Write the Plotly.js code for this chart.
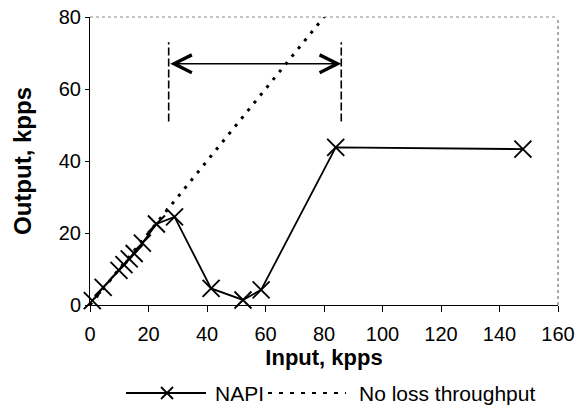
<!DOCTYPE html>
<html>
<head>
<meta charset="utf-8">
<script src="https://cdn.plot.ly/plotly-3.0.1.min.js"></script>
<style>html,body{margin:0;padding:0;background:#fff;}#chart{width:576px;height:410px;}</style>
</head>
<body>
<div id="chart"></div>
<script>
// Data
const napiInput  = [0.8, 4.5, 9.9, 11.6, 13.4, 15.1, 17.9, 22.7, 28.9, 41.4, 52.3, 58.5, 84, 148];
const napiOutput = [1.2, 4.9, 9.6, 11.2, 12.8, 14.3, 17.2, 22.5, 24.5, 4.6, 1.4, 4.2, 43.8, 43.3];
const noLossInput  = [0, 84];
const noLossOutput = [0, 84];
const xTicks = [0, 20, 40, 60, 80, 100, 120, 140, 160];
const yTicks = [0, 20, 40, 60, 80];
const rangeStart = 26.9, rangeEnd = 85.9, rangeLevel = 67;
const seriesNames = ['NAPI', 'No loss throughput'];

const FONT = 'Liberation Sans, Arial, sans-serif';

const traces = [
  {
    x: noLossInput, y: noLossOutput, mode: 'lines', name: seriesNames[1],
    line: {color: '#000', width: 3, dash: '3px,7px'}, showlegend: false, hoverinfo: 'skip'
  },
  {
    x: napiInput, y: napiOutput, mode: 'lines+markers', name: seriesNames[0],
    line: {color: '#000', width: 1.8},
    marker: {symbol: 'x-thin', size: 17, color: '#000', line: {color: '#000', width: 1.9}},
    showlegend: false, cliponaxis: false
  }
];

// paper-coordinate helpers for the hand-drawn legend
const L = 90, R = 18, T = 17, B = 105, W = 576, H = 410;
const pw = W - L - R, ph = H - T - B;
const px = v => (v - L) / pw;
const py = v => (H - B - v) / ph;
const legYpx = 393;
const legY = py(legYpx);

const shapes = [
  // top and right dotted frame
  {type: 'line', xref: 'paper', yref: 'paper', x0: 0, x1: 1, y0: 1, y1: 1, line: {color: '#888', width: 1, dash: 'dot'}},
  {type: 'line', xref: 'paper', yref: 'paper', x0: 1, x1: 1, y0: 0, y1: 1, line: {color: '#555', width: 1, dash: 'dot'}},
  // dashed range markers
  {type: 'line', xref: 'x', yref: 'y', x0: rangeStart, x1: rangeStart, y0: 51, y1: 73, line: {color: '#000', width: 1.6, dash: '8px,3px'}},
  {type: 'line', xref: 'x', yref: 'y', x0: rangeEnd, x1: rangeEnd, y0: 51, y1: 73, line: {color: '#000', width: 1.6, dash: '8px,3px'}},
  // legend symbols
  {type: 'line', xref: 'paper', yref: 'paper', x0: px(126), x1: px(206), y0: legY, y1: legY, line: {color: '#000', width: 1.8}},
  {type: 'line', xref: 'paper', yref: 'paper', x0: px(161), x1: px(173), y0: py(legYpx - 6), y1: py(legYpx + 6), line: {color: '#000', width: 1.8}},
  {type: 'line', xref: 'paper', yref: 'paper', x0: px(161), x1: px(173), y0: py(legYpx + 6), y1: py(legYpx - 6), line: {color: '#000', width: 1.8}},
  {type: 'line', xref: 'paper', yref: 'paper', x0: px(268), x1: px(346), y0: legY, y1: legY, line: {color: '#000', width: 2, dash: '4px,7px'}}
];

const annotations = [
  {x: rangeEnd, y: rangeLevel, ax: rangeStart, ay: rangeLevel, xref: 'x', yref: 'y', axref: 'x', ayref: 'y',
   text: '', showarrow: true, arrowside: 'end+start', arrowhead: 5, startarrowhead: 5,
   arrowsize: 2.5, startarrowsize: 2.5, arrowwidth: 1.4, arrowcolor: '#000'},
  {x: px(213), y: legY, xref: 'paper', yref: 'paper', xanchor: 'left', yanchor: 'middle', showarrow: false,
   text: seriesNames[0], font: {family: FONT, size: 21, color: '#000'}},
  {x: px(357), y: legY, xref: 'paper', yref: 'paper', xanchor: 'left', yanchor: 'middle', showarrow: false,
   text: seriesNames[1], font: {family: FONT, size: 21, color: '#000'}}
];

const layout = {
  width: W, height: H,
  margin: {l: L, r: R, t: T, b: B, pad: 0},
  paper_bgcolor: '#fff', plot_bgcolor: '#fff',
  font: {family: FONT, size: 20, color: '#000'},
  showlegend: false,
  xaxis: {
    range: [0, 160], tickvals: xTicks, ticktext: xTicks.map(String),
    showgrid: false, zeroline: false, showline: true, linecolor: '#000', linewidth: 1,
    ticks: 'outside', ticklen: 6, tickcolor: '#000', tickwidth: 1, ticklabelstandoff: 5,
    tickfont: {family: FONT, size: 20},
    title: {text: '<b>Input, kpps</b>', font: {family: FONT, size: 22}, standoff: 0}
  },
  yaxis: {
    range: [0, 80], tickvals: yTicks, ticktext: yTicks.map(String),
    showgrid: false, zeroline: false, showline: true, linecolor: '#000', linewidth: 1,
    ticks: 'outside', ticklen: 4, tickcolor: '#000', tickwidth: 1,
    tickfont: {family: FONT, size: 20},
    title: {text: '<b>Output, kpps</b>', font: {family: FONT, size: 24}, standoff: 20}
  },
  shapes: shapes,
  annotations: annotations
};

Plotly.newPlot('chart', traces, layout, {staticPlot: true, displayModeBar: false});
</script>
</body>
</html>
